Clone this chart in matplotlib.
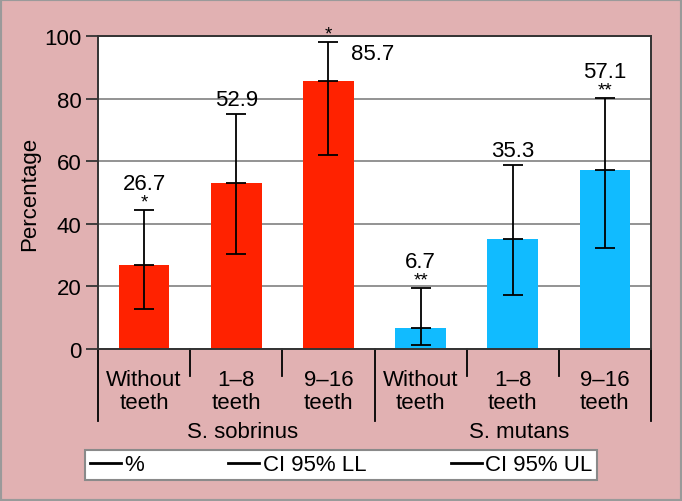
import matplotlib
matplotlib.use("Agg")
import matplotlib.pyplot as plt
from matplotlib.lines import Line2D
from matplotlib.patches import Rectangle
import matplotlib.transforms as mtransforms

# ---- data ----
groups = ["S. sobrinus", "S. mutans"]
categories = ["Without\nteeth", "1–8\nteeth", "9–16\nteeth",
              "Without\nteeth", "1–8\nteeth", "9–16\nteeth"]
percent = [26.7, 52.9, 85.7, 6.7, 35.3, 57.1]
ci_ll = [12.9, 30.4, 61.9, 1.3, 17.1, 32.4]
ci_ul = [44.5, 75.2, 98.0, 19.6, 58.7, 80.3]
stars = ["*", "", "*", "**", "", "**"]
value_labels = ["26.7", "52.9", "85.7", "6.7", "35.3", "57.1"]
legend_labels = ["%", "CI 95% LL", "CI 95% UL"]
yticks = [0, 20, 40, 60, 80, 100]

bar_colors = ["#FF2200"] * 3 + ["#11BBFF"] * 3
bg = "#E1B1B2"
FS = 16

plt.rcParams['font.family'] = ['Liberation Sans', 'DejaVu Sans']

fig = plt.figure(figsize=(6.82, 5.02), dpi=100, facecolor=bg)
ax = fig.add_axes([98/682, 1-350/502, 553/682, 313/502])
ax.set_facecolor("white")

x = list(range(len(percent)))
ax.bar(x, percent, width=0.55, color=bar_colors, zorder=2)

# error bars: caps at LL, UL, and at the value
yerr = [[p - l for p, l in zip(percent, ci_ll)], [u - p for p, u in zip(percent, ci_ul)]]
ax.errorbar(x, percent, yerr=yerr, fmt='none', ecolor='black', elinewidth=1.3,
            capsize=7, capthick=1.3, zorder=3, clip_on=False)
ax.plot(x, percent, linestyle='none', marker='_', markersize=14,
        markeredgewidth=1.3, color='black', zorder=3)

# value labels and asterisks
for i, (u, s, lab) in enumerate(zip(ci_ul, stars, value_labels)):
    if i == 2:
        ax.text(i, u + 2.6, s, ha='center', va='center', fontsize=13.5, clip_on=False)
        ax.text(i + 0.48, u - 3.5, lab, ha='center', va='center', fontsize=FS)
        continue
    if s:
        ax.text(i, u + 2.5, s, ha='center', va='center', fontsize=13.5)
        ax.text(i, u + 8.3, lab, ha='center', va='center', fontsize=FS)
    else:
        ax.text(i, u + 4.6, lab, ha='center', va='center', fontsize=FS)

ax.set_xlim(-0.5, len(percent) - 0.5)
ax.set_ylim(0, 100)
ax.set_yticks(yticks)
ax.yaxis.grid(True, color="#8a8a8a", linewidth=1.3, zorder=0)
ax.set_axisbelow(True)
ax.tick_params(axis='y', length=9, width=1.3, color="#333333", labelsize=FS, pad=3)
ax.set_xticks([])
for sp in ax.spines.values():
    sp.set_color("#333333")
    sp.set_linewidth(1.4)

ax.set_ylabel("Percentage", fontsize=FS)
ax.yaxis.set_label_coords(-0.105, 0.5)

# category labels and separators below the axis
trans = mtransforms.blended_transform_factory(ax.transData, ax.transAxes)
for i, c in enumerate(categories):
    ax.text(i, -0.135, c, transform=trans, ha='center', va='center',
            fontsize=FS, linespacing=1.15)
for b in [0.5, 1.5, 3.5, 4.5]:
    ax.add_line(Line2D([b, b], [0, -0.085], transform=trans, color='black',
                       linewidth=1.3, clip_on=False))
for b in [-0.5, 2.5, 5.5]:
    ax.add_line(Line2D([b, b], [0, -0.23], transform=trans, color='black',
                       linewidth=1.3, clip_on=False))
for gi, g in enumerate(groups):
    ax.text(gi * 3 + 1.07, -0.265, g, transform=trans, ha='center', va='center',
            fontsize=FS)

# legend
handles = [Line2D([], [], color='black', linewidth=2) for _ in legend_labels]
leg = fig.legend(handles, legend_labels, loc='center', ncol=3,
                 bbox_to_anchor=(341/682, 1 - 466/502), fontsize=FS,
                 frameon=True, fancybox=False, edgecolor="#8a8a8a", framealpha=1,
                 handlelength=1.4, handletextpad=0.15, columnspacing=3.8,
                 borderpad=0.2, borderaxespad=0)
leg.get_frame().set_linewidth(1.5)
leg.get_frame().set_facecolor("white")

# outer border
fig.add_artist(Rectangle((0, 0), 1, 1, transform=fig.transFigure, fill=False,
                         edgecolor="#9a9a9a", linewidth=3))

fig.savefig("out.png", dpi=100, facecolor=bg)
